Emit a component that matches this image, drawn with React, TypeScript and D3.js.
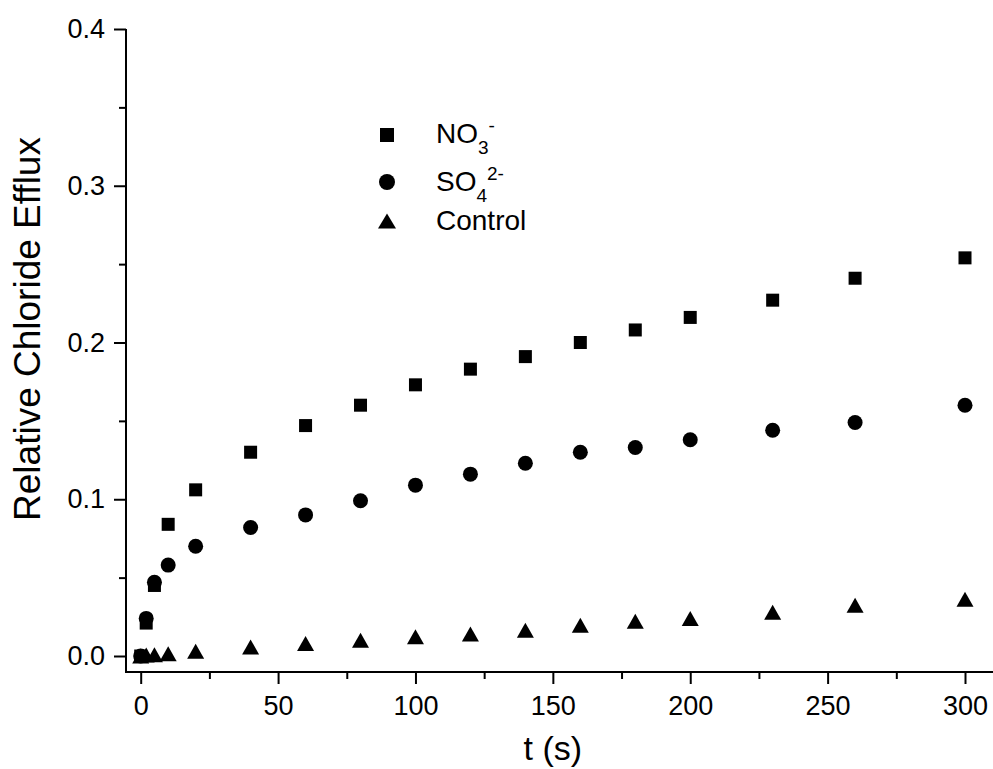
import React, { useEffect, useRef } from 'react';
import * as d3 from 'd3';

const times = [0, 2, 5, 10, 20, 40, 60, 80, 100, 120, 140, 160, 180, 200, 230, 260, 300];
const nitrate = [0, 0.021, 0.045, 0.084, 0.106, 0.130, 0.147, 0.160, 0.173, 0.183, 0.191, 0.200, 0.208, 0.216, 0.227, 0.241, 0.254];
const sulfate = [0, 0.024, 0.047, 0.058, 0.070, 0.082, 0.090, 0.099, 0.109, 0.116, 0.123, 0.130, 0.133, 0.138, 0.144, 0.149, 0.160];
const control = [0, 0.0007, 0.0008, 0.0015, 0.003, 0.0057, 0.0079, 0.0100, 0.0123, 0.0141, 0.0165, 0.0196, 0.0221, 0.0240, 0.0279, 0.0324, 0.0362];

const xMajor = [0, 50, 100, 150, 200, 250, 300];
const xMinor = [25, 75, 125, 175, 225, 275];
const yMajor = [0, 0.1, 0.2, 0.3, 0.4];
const yMinor = [0.05, 0.15, 0.25, 0.35];

const FONT = 'Arial, "Liberation Sans", sans-serif';

const triPath = (w: number, h: number) =>
    `M0,${-h / 2}L${w / 2},${h / 2}L${-w / 2},${h / 2}Z`;

const App = () => {
    const svgRef = useRef<SVGSVGElement>(null);

    useEffect(() => {
        const svg = d3.select(svgRef.current);
        svg.selectAll('*').remove();

        const axisX = 126;
        const axisY = 672;

        const x = d3.scaleLinear().domain([0, 300]).range([140.7, 965]);
        const y = d3.scaleLinear().domain([0, 0.4]).range([656, 29]);

        // axis lines
        svg.append('line')
            .attr('x1', axisX).attr('x2', axisX)
            .attr('y1', y(0.4)).attr('y2', axisY + 1)
            .attr('stroke', '#000').attr('stroke-width', 2);
        svg.append('line')
            .attr('x1', axisX - 1).attr('x2', 993)
            .attr('y1', axisY).attr('y2', axisY)
            .attr('stroke', '#000').attr('stroke-width', 2);

        // y axis
        const yMinorAxis = d3.axisLeft(y).tickValues(yMinor).tickSize(7).tickFormat(() => '');
        const yMajorAxis = d3.axisLeft(y).tickValues(yMajor).tickSize(12).tickPadding(9)
            .tickFormat(d3.format('.1f'));
        svg.append('g').attr('transform', `translate(${axisX},0)`).call(yMinorAxis);
        svg.append('g').attr('transform', `translate(${axisX},0)`).call(yMajorAxis);

        // x axis
        const xMinorAxis = d3.axisBottom(x).tickValues(xMinor).tickSize(7).tickFormat(() => '');
        const xMajorAxis = d3.axisBottom(x).tickValues(xMajor).tickSize(12).tickPadding(12)
            .tickFormat(d3.format('d'));
        svg.append('g').attr('transform', `translate(0,${axisY})`).call(xMinorAxis);
        svg.append('g').attr('transform', `translate(0,${axisY})`).call(xMajorAxis);

        svg.selectAll('.domain').remove();
        svg.selectAll('.tick line').attr('stroke', '#000').attr('stroke-width', 2);
        svg.selectAll('.tick text')
            .attr('fill', '#000')
            .style('font-family', FONT)
            .style('font-size', '27px');

        // titles
        svg.append('text')
            .attr('transform', `translate(40,329) rotate(-90)`)
            .attr('text-anchor', 'middle')
            .style('font-family', FONT)
            .style('font-size', '37px')
            .text('Relative Chloride Efflux');
        svg.append('text')
            .attr('x', x(150))
            .attr('y', 760)
            .attr('text-anchor', 'middle')
            .style('font-family', FONT)
            .style('font-size', '34px')
            .text('t (s)');

        // data
        const pts = times.map((t, i) => ({ t, n: nitrate[i], s: sulfate[i], c: control[i] }));
        const sq = 13;

        svg.append('g').selectAll('rect')
            .data(pts)
            .join('rect')
            .attr('x', d => x(d.t) - sq / 2)
            .attr('y', d => y(d.n) - sq / 2)
            .attr('width', sq)
            .attr('height', sq)
            .attr('fill', '#000');

        svg.append('g').selectAll('circle')
            .data(pts)
            .join('circle')
            .attr('cx', d => x(d.t))
            .attr('cy', d => y(d.s))
            .attr('r', 7.5)
            .attr('fill', '#000');

        svg.append('g').selectAll('path')
            .data(pts)
            .join('path')
            .attr('transform', d => `translate(${x(d.t)},${y(d.c)})`)
            .attr('d', triPath(17, 15))
            .attr('fill', '#000');

        // legend
        const lg = svg.append('g').style('font-family', FONT).style('font-size', '28px');
        lg.append('rect').attr('x', 387 - 7).attr('y', 135 - 7).attr('width', 14).attr('height', 14);
        lg.append('circle').attr('cx', 387).attr('cy', 182).attr('r', 8);
        lg.append('path').attr('transform', 'translate(387,221)').attr('d', triPath(18, 15));

        const t1 = lg.append('text').attr('x', 436).attr('y', 143);
        t1.append('tspan').text('NO');
        t1.append('tspan').attr('dy', 11).style('font-size', '19px').text('3');
        t1.append('tspan').attr('dy', -22).style('font-size', '19px').text('-');

        const t2 = lg.append('text').attr('x', 436).attr('y', 191);
        t2.append('tspan').text('SO');
        t2.append('tspan').attr('dy', 11).style('font-size', '19px').text('4');
        t2.append('tspan').attr('dy', -22).style('font-size', '19px').text('2-');

        lg.append('text').attr('x', 436).attr('y', 230).text('Control');
    }, []);

    return (
        <svg
            ref={svgRef}
            width={993}
            height={769}
            style={{ position: 'absolute', left: 0, top: 0, background: '#fff' }}
        />
    );
};

export default App;
